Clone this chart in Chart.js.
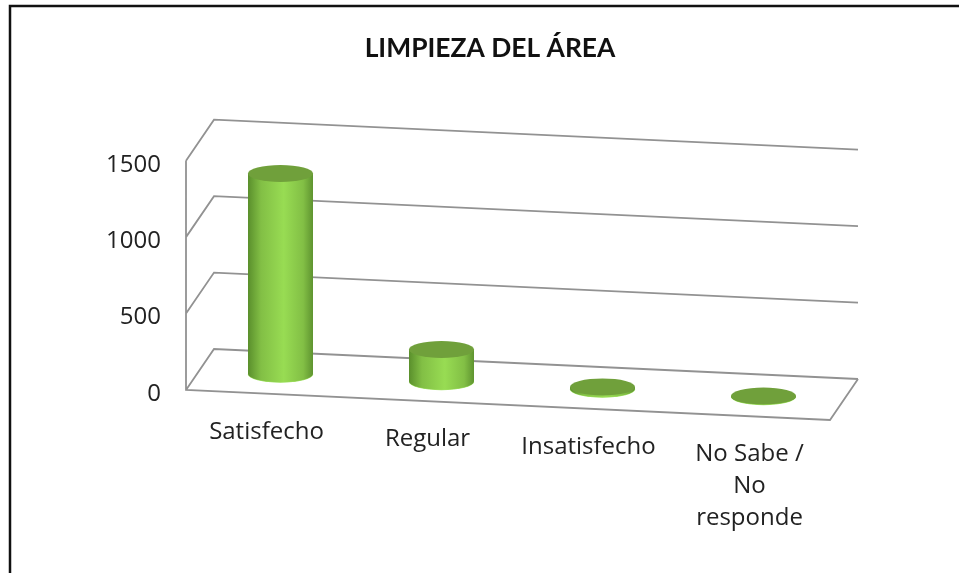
<!DOCTYPE html>
<html>
<head>
<meta charset="utf-8">
<script src="https://cdn.jsdelivr.net/npm/chart.js@4"></script>
<style>
  html, body { margin: 0; padding: 0; background: #fff; overflow: hidden; }
  canvas { display: block; }
</style>
</head>
<body>
<canvas id="areaChart" width="959" height="573"></canvas>
<script>
const categories = ['Satisfecho', 'Regular', 'Insatisfecho', ['No Sabe /', 'No', 'responde']];
const values = [1313, 211, 15, 5];
const yTicks = [0, 500, 1000, 1500];
const chartTitle = 'LIMPIEZA DEL ÁREA';

// fake 3D: floor falls to the right, depth goes up and right
const slope = 0.0466;
const depthX = 28, depthY = -41;
const barDX = 14, barDY = -19.5;
const capHeight = 8.5;
const labelFont = '24px "Open Sans"';

function drop(chart, x) {
  return (x - chart.chartArea.left) * slope;
}

const frame3d = {
  id: 'frame3d',
  beforeDraw(chart) {
    const ctx = chart.ctx;
    // outer picture border, cut off on the right and bottom
    ctx.save();
    ctx.strokeStyle = '#111';
    ctx.lineWidth = 2.5;
    ctx.beginPath();
    ctx.moveTo(10, 573);
    ctx.lineTo(10, 6);
    ctx.lineTo(959, 6);
    ctx.stroke();
    ctx.restore();
  },
  beforeDatasetsDraw(chart) {
    const ctx = chart.ctx;
    const { left, right } = chart.chartArea;
    const y = chart.scales.y;
    const d = drop(chart, right);
    ctx.save();
    ctx.strokeStyle = '#929292';
    ctx.lineWidth = 1.8;
    ctx.beginPath();
    yTicks.forEach(t => {
      const py = y.getPixelForValue(t);
      ctx.moveTo(left, py);
      ctx.lineTo(left + depthX, py + depthY);
      ctx.lineTo(right + depthX, py + depthY + d);
    });
    // left edge and the front of the floor
    const y0 = y.getPixelForValue(0);
    ctx.moveTo(left, y.getPixelForValue(1500));
    ctx.lineTo(left, y0);
    ctx.lineTo(right, y0 + d);
    ctx.lineTo(right + depthX, y0 + d + depthY);
    ctx.stroke();
    ctx.restore();
  },
  // cylinders instead of the flat bars
  beforeDatasetDraw(chart, args) {
    const ctx = chart.ctx;
    const bars = chart.getDatasetMeta(args.index).data;
    bars.forEach(bar => {
      const rx = bar.width / 2;
      const cx = bar.x + barDX;
      const off = drop(chart, bar.x) + barDY;
      const topY = bar.y + off;
      const baseY = bar.base + off;

      const grad = ctx.createLinearGradient(cx - rx, 0, cx + rx, 0);
      grad.addColorStop(0, '#5a8f2c');
      grad.addColorStop(0.2, '#82bf45');
      grad.addColorStop(0.55, '#98dc53');
      grad.addColorStop(0.85, '#82bf45');
      grad.addColorStop(1, '#5f9430');

      ctx.save();
      // lighter rim under the body
      ctx.fillStyle = '#a4e468';
      ctx.beginPath();
      ctx.ellipse(cx, baseY, rx, capHeight, 0, 0, Math.PI * 2);
      ctx.fill();
      ctx.fillStyle = grad;
      ctx.beginPath();
      ctx.moveTo(cx - rx, topY);
      ctx.lineTo(cx + rx, topY);
      ctx.lineTo(cx + rx, baseY);
      ctx.ellipse(cx, baseY - 0.5, rx, capHeight, 0, 0, Math.PI);
      ctx.closePath();
      ctx.fill();
      ctx.fillStyle = '#70a03b';
      ctx.beginPath();
      ctx.ellipse(cx, topY, rx, capHeight, 0, 0, Math.PI * 2);
      ctx.fill();
      ctx.restore();
    });
    return false;
  },
  // labels: categories follow the slope of the floor, values sit left of the wall
  afterDatasetsDraw(chart) {
    const ctx = chart.ctx;
    const x = chart.scales.x;
    const y = chart.scales.y;
    const y0 = y.getPixelForValue(0);
    ctx.save();
    ctx.fillStyle = '#222';
    ctx.font = labelFont;
    ctx.textBaseline = 'middle';
    ctx.textAlign = 'center';
    categories.forEach((label, i) => {
      const px = x.getPixelForTick(i);
      const lines = Array.isArray(label) ? label : [label];
      lines.forEach((line, j) => {
        ctx.fillText(line, px, y0 + drop(chart, px) + 38 + j * 32);
      });
    });
    ctx.textAlign = 'right';
    yTicks.forEach(t => {
      ctx.fillText(String(t), chart.chartArea.left - 25, y.getPixelForValue(t) + 4);
    });
    ctx.restore();
  }
};

new Chart(document.getElementById('areaChart'), {
  type: 'bar',
  data: {
    labels: categories,
    datasets: [{
      label: chartTitle,
      data: values,
      backgroundColor: '#8ccb48',
      barThickness: 65
    }]
  },
  plugins: [frame3d],
  options: {
    responsive: false,
    animation: false,
    layout: { padding: { left: 150, right: 129, top: 33, bottom: 175 } },
    plugins: {
      legend: { display: false },
      tooltip: { enabled: false },
      title: {
        display: true,
        text: chartTitle,
        color: '#111',
        font: { family: 'Lato', size: 26.4, weight: 'bold' },
        padding: { top: 0, bottom: 96 }
      }
    },
    scales: {
      x: {
        grid: { display: false },
        border: { display: false },
        ticks: { display: false }
      },
      y: {
        min: 0,
        max: 1500,
        afterFit(scale) { scale.width = 36; },
        afterBuildTicks(scale) { scale.ticks = yTicks.map(v => ({ value: v })); },
        grid: { display: false },
        border: { display: false },
        ticks: { display: false }
      }
    }
  }
});
</script>
</body>
</html>
